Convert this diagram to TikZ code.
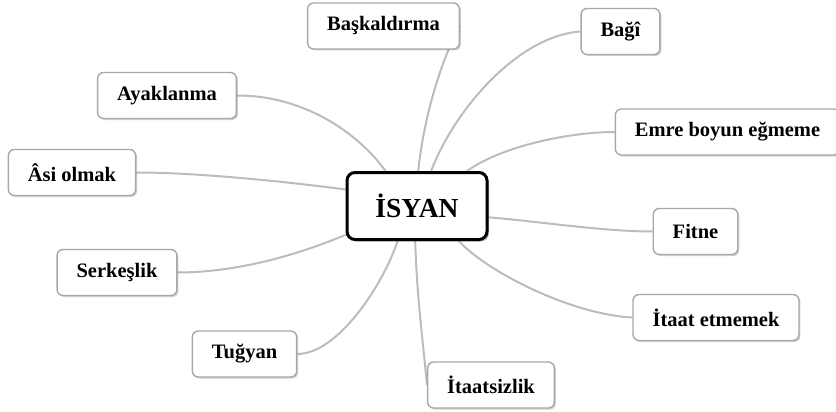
\documentclass[tikz,border=0pt]{standalone}
\usepackage{fontspec}
\setmainfont{Liberation Serif}
\usepackage{tikz}
\usetikzlibrary{shadows,backgrounds}
\definecolor{linkgray}{RGB}{188,188,188}
\definecolor{boxgray}{RGB}{168,168,168}

\begin{document}
\begin{tikzpicture}[x=1pt,y=-1pt,
  leaf/.style={draw=boxgray,fill=white,line width=1.4pt,rounded corners=6pt,
               minimum height=46pt,inner xsep=19.5pt,
               font=\fontsize{20.5}{24}\selectfont\bfseries,
               drop shadow={shadow xshift=1.5pt,shadow yshift=-1.5pt,fill=black,opacity=0.18}},
  hub/.style={draw=black,fill=white,line width=3pt,rounded corners=8pt,
              minimum width=140pt,minimum height=67pt,
              font=\fontsize{27.5}{32}\selectfont\bfseries,
              drop shadow={shadow xshift=2pt,shadow yshift=-2pt,fill=black,opacity=0.25}},
  link/.style={draw=linkgray,line width=2pt}
]
  \useasboundingbox (0,0) rectangle (836,412);
  % Centre
  \node[hub] (isyan) at (417,206) {İSYAN};
  % Upper leaves
  \node[leaf] (baskaldirma) at (383.5,26)  {Başkaldırma};
  \node[leaf] (bagi)        at (620.5,31.5) {Bağî};
  \node[leaf] (ayaklanma)   at (167,95.5)  {Ayaklanma};
  \node[leaf] (emre)        at (727.5,132) {Emre boyun eğmeme};
  % Side leaves
  \node[leaf] (asi)         at (72,172.5)  {Âsi olmak};
  \node[leaf] (fitne)       at (695.5,231.5) {Fitne};
  \node[leaf] (serkeslik)   at (117,272.5) {Serkeşlik};
  % Lower leaves
  \node[leaf] (itaatetme)   at (716,317.5) {İtaat etmemek};
  \node[leaf] (tugyan)      at (244.5,354) {Tuğyan};
  \node[leaf] (itaatsiz)    at (491,385)   {İtaatsizlik};
  % Links
  \begin{scope}[on background layer]
    \draw[link] (isyan.132) .. controls +(-25,-35) and +(70,0) .. (ayaklanma.east);
    \draw[link] (isyan.167) .. controls +(-60,-8) and +(60,0) .. (asi.east);
    \draw[link] (isyan.202) .. controls +(-60,25) and +(50,0) .. (serkeslik.east);
    \draw[link] (isyan.241) .. controls +(-15,45) and +(40,0) .. (tugyan.east);
    \draw[link] (isyan.267) .. controls +(2,60) and +(-4,-45) .. (itaatsiz.west);
    \draw[link] (isyan.88)  .. controls +(8,-75) and +(-8,12) .. (baskaldirma.east);
    \draw[link] (isyan.68)  .. controls +(25,-65) and +(-60,4) .. (bagi.west);
    \draw[link] (isyan.35)  .. controls +(35,-25) and +(-45,0) .. (emre.west);
    \draw[link] (isyan.351) .. controls +(50,4) and +(-50,0) .. (fitne.west);
    \draw[link] (isyan.320) .. controls +(30,32) and +(-60,-3) .. (itaatetme.west);
  \end{scope}
\end{tikzpicture}
\end{document}
